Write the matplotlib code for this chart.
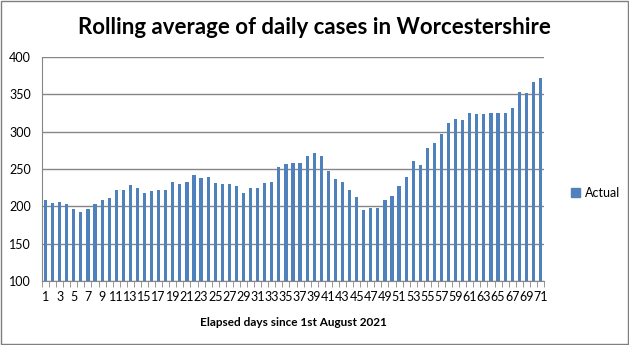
import matplotlib
matplotlib.use("Agg")
import matplotlib.pyplot as plt
from matplotlib.patches import Patch, Rectangle
from matplotlib.ticker import FixedLocator

days = list(range(1, 72))
values = [209, 204, 206, 203, 196, 192, 196, 203, 208, 211,
          222, 222, 229, 225, 218, 221, 222, 222, 233, 230,
          233, 242, 238, 239, 231, 230, 230, 227, 218, 225,
          225, 231, 233, 253, 257, 258, 258, 268, 272, 268,
          247, 237, 233, 222, 212, 195, 198, 198, 208, 214,
          227, 239, 261, 255, 278, 285, 297, 312, 317, 315,
          325, 324, 323, 325, 325, 325, 332, 353, 352, 367, 372]
tick_labels = [str(d) for d in days if d % 2 == 1]
yticks = [100, 150, 200, 250, 300, 350, 400]

title = "Rolling average of daily cases in Worcestershire"
xlabel = "Elapsed days since 1st August 2021"
series_name = "Actual"

bar_color = "#4F81BD"
grid_color = "#868686"
font = ["Lato", "DejaVu Sans"]
plt.rcParams["font.family"] = font

fig = plt.figure(figsize=(6.29, 3.45), dpi=100)
fig.patch.set_facecolor("white")
ax = fig.add_axes([42/629, 1-281/345, (544-42)/629, (281-57)/345])

ax.bar(days, values, width=0.45, color=bar_color, zorder=3)
ax.set_xlim(0.5, 71.5)
ax.set_ylim(100, 400)
ax.set_yticks(yticks)
ax.yaxis.grid(True, color=grid_color, linewidth=1)
ax.set_axisbelow(True)
ax.tick_params(axis="y", length=0, labelsize=9, pad=8)

ax.set_xticks([d for d in days if d % 2 == 1])
ax.set_xticklabels(tick_labels)
ax.tick_params(axis="x", which="major", length=0, labelsize=9, pad=7)
ax.xaxis.set_minor_locator(FixedLocator([d + 0.5 for d in range(0, 72)]))
ax.tick_params(axis="x", which="minor", length=4, color=grid_color, direction="out")

for s in ["top", "right"]:
    ax.spines[s].set_visible(False)
for s in ["left", "bottom"]:
    ax.spines[s].set_color(grid_color)

ax.set_xlabel(xlabel, fontsize=8.5, fontweight="bold", labelpad=10)
fig.text(0.5, 1-28/345, title, ha="center", va="center",
         fontsize=16, fontweight="bold")

fig.legend(handles=[Patch(color=bar_color, label=series_name)],
           loc="center left", bbox_to_anchor=(560/629, 1-193/345),
           frameon=False, fontsize=9, handlelength=0.7, handleheight=0.7,
           handletextpad=0.4)

fig.patches.append(Rectangle((1/629, 1/345), 627/629, 343/345,
                             transform=fig.transFigure, fill=False,
                             edgecolor="#7f7f7f", linewidth=1))

fig.savefig("out.png", dpi=100)
